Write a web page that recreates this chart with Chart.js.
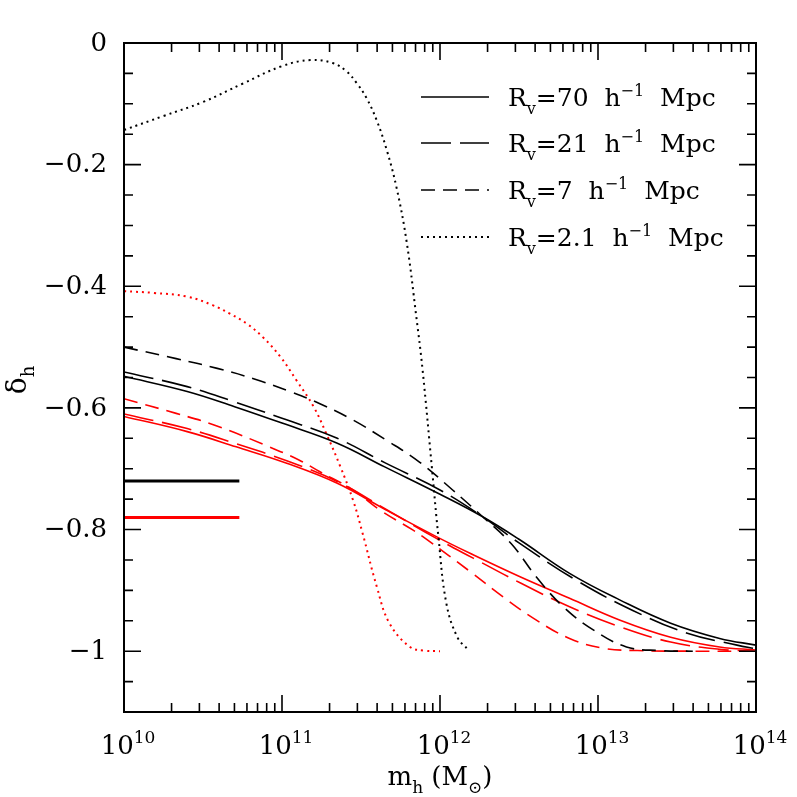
<!DOCTYPE html>
<html lang="en">
<head>
<meta charset="UTF-8" />
<title>delta_h vs m_h</title>
<script src="https://cdn.jsdelivr.net/npm/chart.js"></script>
<style>
  html, body { margin: 0; padding: 0; background: #fff; }
</style>
</head>
<body>
<canvas id="grafico" width="797" height="797"></canvas>
<script>
// log10(m_h) and delta_h
const logM_bk70 = [10, 10.4, 10.7, 11.0, 11.35, 11.65, 12.0, 12.27, 12.5, 12.82, 13.14, 13.46, 13.77, 14.0];
const dh_bk70   = [-0.548, -0.573, -0.598, -0.625, -0.658, -0.697, -0.742, -0.779, -0.816, -0.872, -0.916, -0.954, -0.979, -0.990];

const logM_bk21 = [10, 10.4, 10.7, 11.0, 11.35, 11.65, 12.0, 12.27, 12.5, 12.86, 13.22, 13.56, 13.88, 14.0];
const dh_bk21   = [-0.541, -0.565, -0.590, -0.617, -0.650, -0.690, -0.735, -0.779, -0.822, -0.883, -0.933, -0.970, -0.990, -0.996];

const logM_bk7 = [10, 10.33, 10.59, 10.82, 11.05, 11.24, 11.45, 11.66, 11.87, 12.08, 12.27, 12.45, 12.61, 12.78, 12.97, 13.18, 13.39, 13.6];
const dh_bk7   = [-0.500, -0.519, -0.535, -0.552, -0.573, -0.593, -0.620, -0.653, -0.689, -0.735, -0.779, -0.823, -0.878, -0.927, -0.965, -0.993, -0.999, -1.0];

const logM_bk2 = [10, 10.25, 10.5, 10.75, 11.0, 11.18, 11.32, 11.41, 11.473, 11.536, 11.599, 11.663, 11.726, 11.789, 11.85, 11.89, 11.95, 11.99, 12.04, 12.11, 12.18];
const dh_bk2   = [-0.143, -0.120, -0.097, -0.067, -0.038, -0.028, -0.033, -0.047, -0.066, -0.091, -0.127, -0.176, -0.239, -0.327, -0.45, -0.538, -0.702, -0.812, -0.921, -0.977, -0.998];

const logM_rd70 = [10, 10.4, 10.71, 11.03, 11.35, 11.66, 11.98, 12.19, 12.51, 12.82, 13.14, 13.46, 13.77, 14.0];
const dh_rd70   = [-0.614, -0.639, -0.664, -0.691, -0.724, -0.768, -0.812, -0.839, -0.878, -0.913, -0.949, -0.977, -0.993, -0.998];

const logM_rd21 = [10, 10.4, 10.71, 11.03, 11.35, 11.66, 11.98, 12.21, 12.51, 12.82, 13.14, 13.46, 13.77, 14.0];
const dh_rd21   = [-0.610, -0.634, -0.659, -0.687, -0.721, -0.767, -0.815, -0.847, -0.888, -0.927, -0.960, -0.985, -0.997, -1.0];

const logM_rd7 = [10, 10.33, 10.57, 10.92, 11.11, 11.24, 11.45, 11.62, 11.83, 11.92, 12.19, 12.4, 12.61, 12.82, 13.03, 13.25, 13.6, 14.0];
const dh_rd7   = [-0.585, -0.609, -0.628, -0.664, -0.686, -0.705, -0.735, -0.768, -0.801, -0.817, -0.869, -0.911, -0.949, -0.979, -0.995, -0.999, -1.0, -1.0];

const logM_rd2 = [10, 10.19, 10.4, 10.56, 10.67, 10.78, 10.88, 10.99, 11.09, 11.2, 11.28, 11.37, 11.45, 11.51, 11.6, 11.68, 11.81, 11.9, 12.0];
const dh_rd2   = [-0.408, -0.411, -0.417, -0.431, -0.445, -0.462, -0.484, -0.516, -0.554, -0.598, -0.642, -0.697, -0.752, -0.806, -0.894, -0.954, -0.993, -0.999, -1.0];

// short horizontal reference bars
const logM_bar = [10, 10.73];
const dh_barBlack = [-0.72, -0.72];
const dh_barRed = [-0.78, -0.78];

// axes
const yTickValues = [0, -0.2, -0.4, -0.6, -0.8, -1];
const yTickLabels = ["0", "\u22120.2", "\u22120.4", "\u22120.6", "\u22120.8", "\u22121"];
const xDecades = [10, 11, 12, 13, 14];

// legend
const legendRv = ["70", "21", "7", "2.1"];

const FONT = "'DejaVu Serif', 'Liberation Serif', serif";

function pts(logM, dh) {
  return logM.map((l, i) => ({ x: Math.pow(10, l), y: dh[i] }));
}

const DASH_LONG = [30, 9];
const DASH_SHORT = [14, 8];
const DASH_DOT = [2, 4];

function serie(logM, dh, color, dash, width) {
  return {
    data: pts(logM, dh),
    borderColor: color,
    borderWidth: width || 1.6,
    borderDash: dash,
    borderCapStyle: "butt",
    pointRadius: 0,
    fill: false,
    tension: 0.4,
  };
}

// rich text: parts = [[text, mode]] mode 0 normal, 1 sup, -1 sub
function richWidth(ctx, parts, size, small) {
  let w = 0;
  parts.forEach(([t, m]) => {
    ctx.font = (m === 0 ? size : small) + "px " + FONT;
    w += ctx.measureText(t).width;
  });
  return w;
}
function drawRich(ctx, parts, x, y, size, small, align) {
  let w = richWidth(ctx, parts, size, small);
  let cx = align === "center" ? x - w / 2 : align === "right" ? x - w : x;
  ctx.textAlign = "left";
  ctx.textBaseline = "alphabetic";
  parts.forEach(([t, m]) => {
    ctx.font = (m === 0 ? size : small) + "px " + FONT;
    let dy = m === 1 ? -size * 0.42 : m === -1 ? size * 0.3 : 0;
    ctx.fillText(t, cx, y + dy);
    cx += ctx.measureText(t).width;
  });
}

const molduraPlugin = {
  id: "moldura",
  afterDraw(chart) {
    const ctx = chart.ctx;
    const a = chart.chartArea;
    const xs = chart.scales.x;
    const ys = chart.scales.y;
    ctx.save();
    ctx.strokeStyle = "#000";
    ctx.fillStyle = "#000";
    ctx.setLineDash([]);

    // frame
    ctx.lineWidth = 2;
    ctx.strokeRect(a.left, a.top, a.right - a.left, a.bottom - a.top);

    // y ticks (every 0.05, major every 0.2)
    ctx.lineWidth = 1.6;
    for (let k = 0; k <= 22; k++) {
      const v = -k * 0.05;
      const py = ys.getPixelForValue(v);
      const len = k % 4 === 0 ? 17 : 9;
      ctx.beginPath();
      ctx.moveTo(a.left, py); ctx.lineTo(a.left + len, py);
      ctx.moveTo(a.right, py); ctx.lineTo(a.right - len, py);
      ctx.stroke();
    }
    // x ticks
    xDecades.forEach((d) => {
      for (let m = 1; m <= 9; m++) {
        if (d === 14 && m > 1) break;
        const px = xs.getPixelForValue(m * Math.pow(10, d));
        const len = m === 1 ? 17 : 9;
        ctx.beginPath();
        ctx.moveTo(px, a.bottom); ctx.lineTo(px, a.bottom - len);
        ctx.moveTo(px, a.top); ctx.lineTo(px, a.top + len);
        ctx.stroke();
      }
    });

    // y labels
    ctx.font = "26px " + FONT;
    ctx.textAlign = "right";
    ctx.textBaseline = "middle";
    yTickValues.forEach((v, i) => {
      ctx.fillText(yTickLabels[i], a.left - 17, ys.getPixelForValue(v) + 1);
    });

    // x labels
    xDecades.forEach((d) => {
      const px = xs.getPixelForValue(Math.pow(10, d));
      drawRich(ctx, [["10", 0], [String(d), 1]], px + 4, 754, 26, 17, "center");
    });

    // axis titles
    drawRich(ctx, [["m", 0], ["h", -1], [" (M", 0], ["\u2299", -1], [")", 0]], 440, 785, 26, 17, "center");
    ctx.save();
    ctx.translate(26, 380);
    ctx.rotate(-Math.PI / 2);
    drawRich(ctx, [["\u03b4", 0], ["h", -1]], 0, 0, 28, 18, "center");
    ctx.restore();

    // legend
    const rows = [97, 143, 190, 237];
    const dashes = [[], DASH_LONG, DASH_SHORT, DASH_DOT];
    rows.forEach((ry, i) => {
      ctx.lineWidth = i === 3 ? 2 : 1.6;
      ctx.setLineDash(dashes[i]);
      ctx.beginPath();
      ctx.moveTo(421, ry); ctx.lineTo(489, ry);
      ctx.stroke();
      ctx.setLineDash([]);
      drawRich(ctx, [["R", 0], ["v", -1], ["=" + legendRv[i] + "  h", 0], ["\u22121", 1], ["  Mpc", 0]],
        508, ry + 9, 25, 16, "left");
    });
    ctx.restore();
  },
};

const grafico = document.getElementById("grafico");
new Chart(grafico, {
  type: "line",
  data: {
    datasets: [
      serie(logM_bk70, dh_bk70, "#000", []),
      serie(logM_bk21, dh_bk21, "#000", DASH_LONG),
      serie(logM_bk7, dh_bk7, "#000", DASH_SHORT),
      serie(logM_bk2, dh_bk2, "#000", DASH_DOT, 2),
      serie(logM_rd70, dh_rd70, "#ff0000", []),
      serie(logM_rd21, dh_rd21, "#ff0000", DASH_LONG),
      serie(logM_rd7, dh_rd7, "#ff0000", DASH_SHORT),
      serie(logM_rd2, dh_rd2, "#ff0000", DASH_DOT, 2),
      serie(logM_bar, dh_barBlack, "#000", [], 3),
      serie(logM_bar, dh_barRed, "#ff0000", [], 3),
    ],
  },
  options: {
    responsive: false,
    animation: false,
    devicePixelRatio: 1,
    layout: { padding: { left: 124, right: 41, top: 43, bottom: 85 } },
    scales: {
      x: { type: "logarithmic", min: 1e10, max: 1e14, display: false },
      y: { type: "linear", min: -1.1, max: 0, display: false },
    },
    plugins: { legend: { display: false }, tooltip: { enabled: false } },
  },
  plugins: [molduraPlugin],
});
</script>
</body>
</html>
